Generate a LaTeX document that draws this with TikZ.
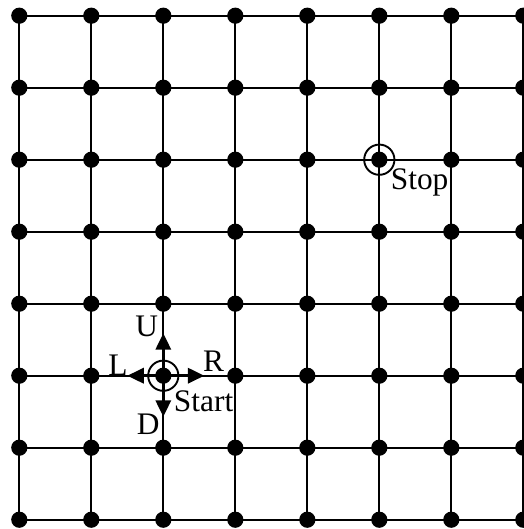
\documentclass[tikz,border=0pt]{standalone}
\usepackage{fontspec}
\setmainfont{Liberation Serif}
\usetikzlibrary{arrows.meta}
\usetikzlibrary{calc,positioning}

\tikzset{
  dot/.style={circle,fill=black,inner sep=0pt,minimum size=2.25mm},
  ring/.style={circle,draw,line width=0.75pt,inner sep=0pt,minimum size=4.2mm},
  move/.style={-{Triangle[length=6.5pt,width=6pt]},line width=1.1pt},
  lbl/.style={inner sep=0pt,font=\fontsize{12.4}{14}\selectfont}
}

\begin{document}
\begin{tikzpicture}[x=1cm,y=1cm]
          \useasboundingbox (-0.268,0.218) rectangle (6.996,-7.129);

          % Points du reseau
          \foreach \i in {0,...,7} {
            \foreach \j in {0,...,7} {
              \node[dot] (p\i\j) at (\i,-\j) {};
            }
          }

          % Aretes
          \foreach \i in {0,...,7} {
            \foreach \j [count=\k from 1] in {0,...,6} {
              \draw[line width=0.9pt] (p\i\j.center) -- (p\i\k.center);
              \draw[line width=0.9pt] (p\j\i.center) -- (p\k\i.center);
            }
          }

          % Depart et arrivee
          \node[ring] (start) at (p25) {};
          \node[ring] (stop) at (p52) {};

          % Directions
          \coordinate (su) at ($(p25)+(0,0.59)$);
          \coordinate (sd) at ($(p25)+(0,-0.57)$);
          \coordinate (sl) at ($(p25)+(-0.5,0)$);
          \coordinate (sr) at ($(p25)+(0.57,0)$);
          \draw[move] (p25.center) -- (su);
          \draw[move] (p25.center) -- (sd);
          \draw[move] (p25.center) -- (sl);
          \draw[move] (p25.center) -- (sr);

          \node[lbl] (lu) at ($(p25)+(-0.23,0.68)$) {U};
          \node[lbl] (ld) at ($(p25)+(-0.21,-0.67)$) {D};
          \node[lbl] (ll) at ($(p25)+(-0.63,0.14)$) {L};
          \node[lbl] (lr) at ($(p25)+(0.70,0.20)$) {R};
          \node[lbl] (lstart) at ($(p25)+(0.56,-0.36)$) {Start};
          \node[lbl] (lstop) at ($(p52)+(0.56,-0.31)$) {Stop};

        \end{tikzpicture}
\end{document}
